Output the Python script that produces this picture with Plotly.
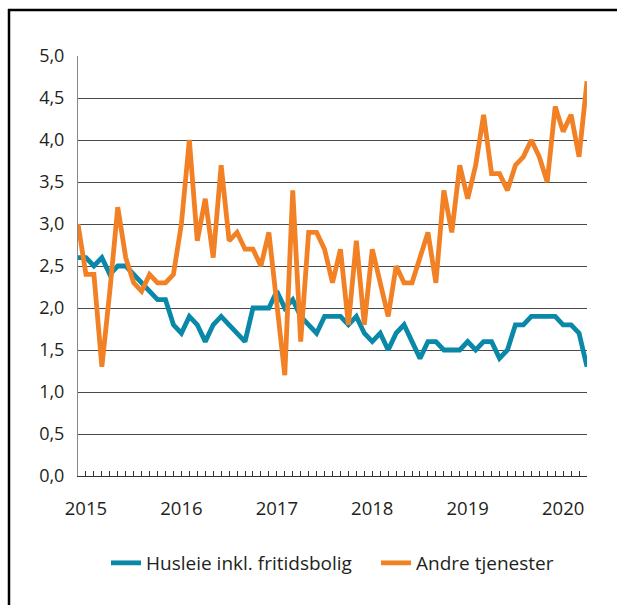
import plotly.graph_objects as go
import pandas as pd

# Months from Dec 2014 to Apr 2020 (65 monthly observations)
months = [d.strftime("%Y-%m") for d in pd.date_range("2014-12-01", "2020-04-01", freq="MS")]

husleie = [2.6, 2.6, 2.5, 2.6, 2.4, 2.5, 2.5, 2.4, 2.3, 2.2,
           2.1, 2.1, 1.8, 1.7, 1.9, 1.8, 1.6, 1.8, 1.9, 1.8,
           1.7, 1.6, 2.0, 2.0, 2.0, 2.2, 2.0, 2.1, 1.9, 1.8,
           1.7, 1.9, 1.9, 1.9, 1.8, 1.9, 1.7, 1.6, 1.7, 1.5,
           1.7, 1.8, 1.6, 1.4, 1.6, 1.6, 1.5, 1.5, 1.5, 1.6,
           1.5, 1.6, 1.6, 1.4, 1.5, 1.8, 1.8, 1.9, 1.9, 1.9,
           1.9, 1.8, 1.8, 1.7, 1.3]

andre = [3.0, 2.4, 2.4, 1.3, 2.2, 3.2, 2.6, 2.3, 2.2, 2.4,
         2.3, 2.3, 2.4, 3.0, 4.0, 2.8, 3.3, 2.6, 3.7, 2.8,
         2.9, 2.7, 2.7, 2.5, 2.9, 2.0, 1.2, 3.4, 1.6, 2.9,
         2.9, 2.7, 2.3, 2.7, 1.8, 2.8, 1.8, 2.7, 2.3, 1.9,
         2.5, 2.3, 2.3, 2.6, 2.9, 2.3, 3.4, 2.9, 3.7, 3.3,
         3.7, 4.3, 3.6, 3.6, 3.4, 3.7, 3.8, 4.0, 3.8, 3.5,
         4.4, 4.1, 4.3, 3.8, 4.7]

series_names = ["Husleie inkl. fritidsbolig", "Andre tjenester"]
y_ticks = [0.0, 0.5, 1.0, 1.5, 2.0, 2.5, 3.0, 3.5, 4.0, 4.5, 5.0]
y_ticktext = ["0,0", "0,5", "1,0", "1,5", "2,0", "2,5", "3,0", "3,5", "4,0", "4,5", "5,0"]

idx = list(range(len(months)))
x_ticktext = [m[:4] if m.endswith("-01") else "" for m in months]

FONT = "Open Sans"
TXT = "#231f20"

fig = go.Figure()
fig.add_trace(go.Scatter(x=idx, y=husleie, mode="lines", name=series_names[0],
                         line=dict(color="#0a88a8", width=4.8), cliponaxis=False,
                         legend="legend"))
fig.add_trace(go.Scatter(x=idx, y=andre, mode="lines", name=series_names[1],
                         line=dict(color="#f28125", width=4.8), cliponaxis=False,
                         legend="legend2"))

W, H = 617, 605
L, R, T, B = 78, 30, 56, 129
pw, ph = W - L - R, H - T - B

def px(x):
    return (x - L) / pw

def py(y):
    return (H - B - y) / ph

legend_common = dict(orientation="h", xref="container", yref="container",
                     xanchor="left", y=(H - 563) / H, yanchor="middle",
                     font=dict(family=FONT, size=19, color=TXT), bgcolor="rgba(0,0,0,0)",
                     itemwidth=30, tracegroupgap=0)

fig.update_layout(
    width=W, height=H,
    margin=dict(l=L, r=R, t=T, b=B, autoexpand=False),
    paper_bgcolor="white", plot_bgcolor="white",
    font=dict(family=FONT, size=17, color=TXT),
    showlegend=True,
    legend=dict(x=106 / W, **legend_common),
    legend2=dict(x=376 / W, **legend_common),
    xaxis=dict(range=[0, len(months) - 1], tickmode="array", tickvals=idx, ticktext=x_ticktext,
               ticks="inside", ticklen=5, tickwidth=1, tickcolor="#333",
               showline=True, linecolor="#333", linewidth=1, showgrid=False, zeroline=False,
               tickfont=dict(family=FONT, size=18.5, color=TXT), ticklabelstandoff=16,
               automargin=False),
    yaxis=dict(range=[0, 5], tickmode="array", tickvals=y_ticks, ticktext=y_ticktext,
               showgrid=True, gridcolor="#4a4a4a", gridwidth=1, zeroline=False,
               showline=True, linecolor="#888", linewidth=1, ticks="",
               tickfont=dict(family=FONT, size=18, color=TXT), ticklabelstandoff=9,
               automargin=False),
    shapes=[
        dict(type="line", xref="paper", yref="paper", x0=px(8), x1=px(617), y0=py(10), y1=py(10),
             line=dict(color="black", width=2.5)),
        dict(type="line", xref="paper", yref="paper", x0=px(9), x1=px(9), y0=py(9), y1=py(605),
             line=dict(color="black", width=2.5)),
    ],
)

fig.write_html("out.html", config={"displayModeBar": False},
               post_script="document.body.style.margin='0';document.body.style.overflow='hidden';")
